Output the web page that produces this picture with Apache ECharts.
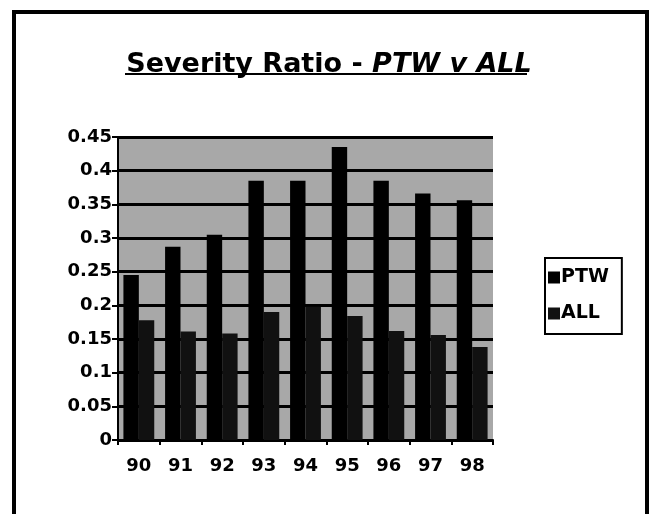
<!DOCTYPE html>
<html>
<head>
<meta charset="utf-8">
<script src="https://cdn.jsdelivr.net/npm/echarts@6/dist/echarts.min.js"></script>
<style>
html,body{margin:0;padding:0;background:#fff;}
#chart{width:658px;height:514px;}
</style>
</head>
<body>
<div id="chart"></div>
<script>
const categories = ['90','91','92','93','94','95','96','97','98'];
const ptwValues = [0.245, 0.287, 0.305, 0.385, 0.385, 0.435, 0.385, 0.366, 0.356];
const allValues = [0.178, 0.161, 0.158, 0.190, 0.198, 0.184, 0.162, 0.156, 0.138];
const seriesNames = ['PTW', 'ALL'];

const FONT = '"DejaVu Sans", "Liberation Sans", Arial, sans-serif';
const chart = echarts.init(document.getElementById('chart'), null, {renderer: 'canvas'});

chart.setOption({
  backgroundColor: '#ffffff',
  animation: false,
  textStyle: {fontFamily: FONT, color: '#000'},
  title: {
    left: 'center',
    top: 46,
    text: '{n|Severity Ratio - }{i|PTW v ALL}',
    textStyle: {
      rich: {
        n: {fontFamily: FONT, fontSize: 27, fontWeight: 'bold', color: '#000'},
        i: {fontFamily: FONT, fontSize: 27, fontWeight: 'bold', fontStyle: 'italic', color: '#000'}
      }
    }
  },
  legend: {
    orient: 'vertical',
    left: 545,
    top: 258,
    data: seriesNames,
    borderColor: '#000',
    borderWidth: 2,
    padding: [10, 13, 11, 3],
    itemWidth: 12,
    itemHeight: 12,
    itemGap: 17,
    icon: 'rect',
    textStyle: {fontFamily: FONT, fontSize: 19, fontWeight: 'bold', color: '#000', padding: [0,0,0,-4]}
  },
  grid: {
    left: 118,
    right: 165,
    top: 137,
    bottom: 74,
    show: true,
    backgroundColor: '#a8a8a8',
    borderWidth: 0
  },
  xAxis: {
    type: 'category',
    data: categories,
    axisLine: {lineStyle: {color: '#000', width: 2}},
    axisTick: {show: true, length: 5, lineStyle: {color: '#000', width: 2}},
    axisLabel: {fontFamily: FONT, fontSize: 18, fontWeight: 'bold', color: '#000', margin: 17}
  },
  yAxis: {
    type: 'value',
    min: 0,
    max: 0.45,
    interval: 0.05,
    axisLine: {show: true, lineStyle: {color: '#000', width: 2}},
    axisTick: {show: true, length: 6, lineStyle: {color: '#000', width: 2}},
    axisLabel: {fontFamily: FONT, fontSize: 18, fontWeight: 'bold', color: '#000', margin: 6},
    splitLine: {show: true, lineStyle: {color: '#000', width: 3}}
  },
  series: [
    {
      name: seriesNames[0],
      type: 'bar',
      data: ptwValues,
      barGap: '0%',
      barCategoryGap: '26%',
      itemStyle: {color: '#000'}
    },
    {
      name: seriesNames[1],
      type: 'bar',
      data: allValues,
      barGap: '0%',
      barCategoryGap: '26%',
      itemStyle: {color: '#111'}
    }
  ],
  graphic: [
    {
      type: 'rect',
      shape: {x: 14, y: 12, width: 633, height: 540},
      style: {fill: 'none', stroke: '#000', lineWidth: 4},
      silent: true
    },
    {
      type: 'line',
      shape: {x1: 125, y1: 74, x2: 527, y2: 74},
      style: {stroke: '#000', lineWidth: 2},
      silent: true
    }
  ]
});
</script>
</body>
</html>
